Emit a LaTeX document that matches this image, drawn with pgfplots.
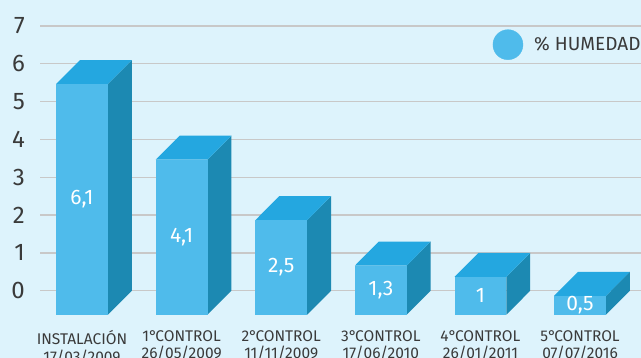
\documentclass[border=0pt]{standalone}
\usepackage{pgfplots}
\pgfplotsset{compat=1.18}
\usepackage{fontspec}
\setmainfont{Fira Sans}
\definecolor{bgc}{HTML}{DDF3FC}
\definecolor{frontc}{HTML}{4FBBEB}
\definecolor{topc}{HTML}{24A7E0}
\definecolor{sidec}{HTML}{1C89B2}
\definecolor{gridc}{HTML}{C8C8C8}
\definecolor{txtc}{HTML}{3A3A3A}
\newcommand{\dg}{°\kern-1.8pt}
\begin{document}
\begin{tikzpicture}[x=1pt,y=1pt]
\path[use as bounding box] (0,0) rectangle (641,358);
\fill[bgc] (0,0) rectangle (641,358);
\begin{axis}[
  at={(40pt,40.8pt)}, anchor=south west,
  scale only axis, width=601pt, height=291.2pt,
  xmin=-0.4217, xmax=5.612, ymin=-0.7, ymax=7,
  axis line style={draw=none},
  tick style={draw=none},
  ytick={0,1,2,3,4,5,6,7},
  ymajorgrids, grid style={gridc, line width=1.3pt},
  xtick={0,1,2,3,4,5},
  xticklabels={{INSTALACIÓN\\17/03/2009},{1\dg CONTROL\\26/05/2009},{2\dg CONTROL\\11/11/2009},{3\dg CONTROL\\17/06/2010},{4\dg CONTROL\\26/01/2011},{5\dg CONTROL\\07/07/2016}},
  xticklabel style={align=center, font=\fontsize{15.5}{17.6}\selectfont, text=txtc, inner sep=0pt, yshift=-13pt},
  yticklabel style={font=\fontsize{24}{28}\selectfont, text=txtc, inner sep=0pt, xshift=-15pt},
  /pgf/number format/assume math mode=true,
  legend style={draw=none, fill=none, at={(0.753,0.9358)}, anchor=west, inner sep=0pt,
    font=\fontsize{19}{21}\selectfont, text=txtc, column sep=0pt,
    /tikz/every even column/.append style={column sep=0pt}},
  legend cell align=left,
  clip=false,
]
% bar 0: 6.1
\addplot[fill=sidec, draw=none, forget plot] coordinates {(0.26,-0.635) (0.50,0) (0.50,6.1) (0.26,5.465)};
\addplot[fill=topc, draw=none, forget plot] coordinates {(-0.26,5.465) (0.26,5.465) (0.50,6.1) (-0.02,6.1)};
\addplot[fill=frontc, draw=none, forget plot] coordinates {(-0.26,-0.635) (0.26,-0.635) (0.26,5.465) (-0.26,5.465)};
% bar 1: 4.1
\addplot[fill=sidec, draw=none, forget plot] coordinates {(1.26,-0.635) (1.50,0) (1.50,4.1) (1.26,3.465)};
\addplot[fill=topc, draw=none, forget plot] coordinates {(0.74,3.465) (1.26,3.465) (1.50,4.1) (0.98,4.1)};
\addplot[fill=frontc, draw=none, forget plot] coordinates {(0.74,-0.635) (1.26,-0.635) (1.26,3.465) (0.74,3.465)};
% bar 2: 2.5
\addplot[fill=sidec, draw=none, forget plot] coordinates {(2.26,-0.635) (2.50,0) (2.50,2.5) (2.26,1.865)};
\addplot[fill=topc, draw=none, forget plot] coordinates {(1.74,1.865) (2.26,1.865) (2.50,2.5) (1.98,2.5)};
\addplot[fill=frontc, draw=none, forget plot] coordinates {(1.74,-0.635) (2.26,-0.635) (2.26,1.865) (1.74,1.865)};
% bar 3: 1.3
\addplot[fill=sidec, draw=none, forget plot] coordinates {(3.26,-0.635) (3.50,0) (3.50,1.3) (3.26,0.665)};
\addplot[fill=topc, draw=none, forget plot] coordinates {(2.74,0.665) (3.26,0.665) (3.50,1.3) (2.98,1.3)};
\addplot[fill=frontc, draw=none, forget plot] coordinates {(2.74,-0.635) (3.26,-0.635) (3.26,0.665) (2.74,0.665)};
% bar 4: 1.0
\addplot[fill=sidec, draw=none, forget plot] coordinates {(4.26,-0.635) (4.50,0) (4.50,1.0) (4.26,0.365)};
\addplot[fill=topc, draw=none, forget plot] coordinates {(3.74,0.365) (4.26,0.365) (4.50,1.0) (3.98,1.0)};
\addplot[fill=frontc, draw=none, forget plot] coordinates {(3.74,-0.635) (4.26,-0.635) (4.26,0.365) (3.74,0.365)};
% bar 5: 0.5
\addplot[fill=sidec, draw=none, forget plot] coordinates {(5.26,-0.635) (5.50,0) (5.50,0.5) (5.26,-0.135)};
\addplot[fill=topc, draw=none, forget plot] coordinates {(4.74,-0.135) (5.26,-0.135) (5.50,0.5) (4.98,0.5)};
\addplot[fill=frontc, draw=none, forget plot] coordinates {(4.74,-0.635) (5.26,-0.635) (5.26,-0.135) (4.74,-0.135)};
% value labels
\addplot[draw=none, forget plot, nodes near coords, point meta=explicit symbolic,
  nodes near coords align=center,
  every node near coord/.append style={font=\fontsize{21}{24}\selectfont, text=white, anchor=center, inner sep=0pt}]
  coordinates {(0,2.415)[6{,}1] (1,1.415)[4{,}1] (2,0.615)[2{,}5] (3,0.015)[1{,}3] (4,-0.135)[1] (5,-0.385)[0{,}5]};
\addlegendimage{legend image code/.code={\fill[frontc] (15pt,0pt) circle (15pt);}}
\addlegendentry{\hspace*{9pt}\% HUMEDAD}
\end{axis}
\end{tikzpicture}
\end{document}
